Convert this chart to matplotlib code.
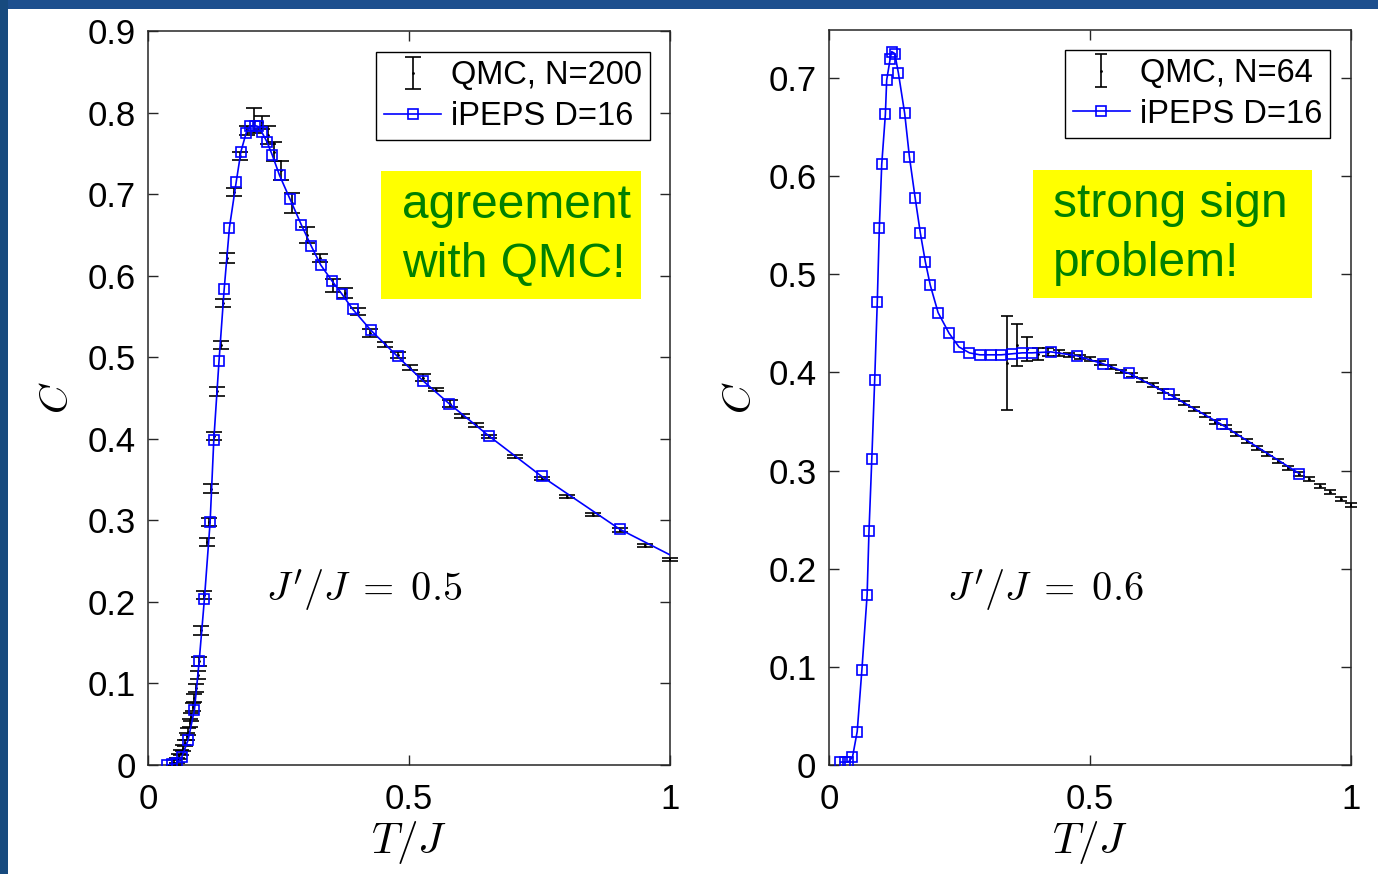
import matplotlib
matplotlib.use("Agg")
import matplotlib.pyplot as plt
from matplotlib.patches import Rectangle

plt.rcParams['font.family'] = ['Liberation Sans', 'DejaVu Sans']
plt.rcParams['mathtext.fontset'] = 'cm'

# ---------------- Data: left panel (J'/J = 0.5) ----------------
ipeps_T_left = [0.037, 0.046, 0.055, 0.065, 0.077, 0.089, 0.098, 0.108, 0.119, 0.126,
                0.136, 0.146, 0.156, 0.169, 0.178, 0.188, 0.195, 0.205, 0.211, 0.218,
                0.228, 0.238, 0.252, 0.272, 0.294, 0.313, 0.331, 0.352, 0.372, 0.392,
                0.427, 0.478, 0.527, 0.577, 0.654, 0.754, 0.904, 1.100]
ipeps_C_left = [0.000, 0.001, 0.002, 0.010, 0.031, 0.068, 0.127, 0.203, 0.298, 0.398,
                0.495, 0.584, 0.659, 0.715, 0.752, 0.775, 0.783, 0.784, 0.783, 0.776,
                0.764, 0.748, 0.723, 0.694, 0.662, 0.636, 0.613, 0.594, 0.577, 0.559,
                0.533, 0.501, 0.471, 0.443, 0.403, 0.354, 0.289, 0.225]

qmc_T_left = [0.050, 0.055, 0.060, 0.064, 0.068, 0.071, 0.074, 0.077, 0.080, 0.083,
              0.086, 0.089, 0.092, 0.095, 0.098, 0.102, 0.108, 0.113, 0.117, 0.120,
              0.126, 0.133, 0.140, 0.144, 0.152, 0.165, 0.176, 0.190, 0.203, 0.218,
              0.230, 0.241, 0.254, 0.275, 0.304, 0.330, 0.354, 0.377, 0.403, 0.425,
              0.454, 0.478, 0.502, 0.527, 0.552, 0.579, 0.601, 0.628, 0.654, 0.703,
              0.754, 0.802, 0.853, 0.904, 0.952, 1.000]
qmc_C_left = [0.003, 0.006, 0.010, 0.015, 0.021, 0.027, 0.035, 0.041, 0.051, 0.059,
              0.071, 0.082, 0.094, 0.110, 0.127, 0.165, 0.208, 0.273, 0.298, 0.339,
              0.403, 0.458, 0.515, 0.566, 0.622, 0.703, 0.747, 0.778, 0.790, 0.788,
              0.773, 0.752, 0.729, 0.689, 0.650, 0.622, 0.588, 0.579, 0.556, 0.530,
              0.516, 0.503, 0.487, 0.475, 0.460, 0.443, 0.428, 0.417, 0.403, 0.378,
              0.351, 0.329, 0.307, 0.288, 0.269, 0.252]
qmc_E_left = [0.003, 0.003, 0.003, 0.003, 0.004, 0.004, 0.004, 0.004, 0.005, 0.005,
              0.005, 0.005, 0.005, 0.005, 0.005, 0.005, 0.005, 0.005, 0.005, 0.005,
              0.005, 0.005, 0.005, 0.005, 0.006, 0.005, 0.005, 0.006, 0.015, 0.008,
              0.011, 0.012, 0.012, 0.012, 0.010, 0.005, 0.008, 0.006, 0.004, 0.005,
              0.003, 0.004, 0.003, 0.004, 0.002, 0.004, 0.002, 0.002, 0.002, 0.002,
              0.002, 0.002, 0.002, 0.002, 0.002, 0.002]

# ---------------- Data: right panel (J'/J = 0.6) ----------------
ipeps_T_right = [0.022, 0.030, 0.037, 0.045, 0.054, 0.063, 0.073, 0.0766, 0.082, 0.0875,
                 0.0925, 0.0964, 0.101, 0.108, 0.1105, 0.117, 0.120, 0.126, 0.133, 0.145,
                 0.154, 0.165, 0.175, 0.1845, 0.194, 0.209, 0.230, 0.249, 0.269, 0.289,
                 0.310, 0.330, 0.350, 0.370, 0.389, 0.425, 0.475, 0.524, 0.575, 0.651,
                 0.752, 0.901]
ipeps_C_right = [0.003, 0.003, 0.003, 0.008, 0.034, 0.097, 0.173, 0.238, 0.312, 0.392,
                 0.472, 0.547, 0.612, 0.663, 0.698, 0.719, 0.727, 0.725, 0.705, 0.664,
                 0.620, 0.578, 0.542, 0.513, 0.489, 0.461, 0.440, 0.426, 0.420, 0.418,
                 0.418, 0.418, 0.419, 0.420, 0.420, 0.421, 0.417, 0.409, 0.399, 0.378,
                 0.347, 0.297]

qmc_T_right = [0.341, 0.361, 0.380, 0.401, 0.420, 0.440, 0.460, 0.480, 0.500, 0.520,
               0.540, 0.560, 0.580, 0.600, 0.620, 0.640, 0.660, 0.680, 0.700, 0.720,
               0.740, 0.760, 0.780, 0.800, 0.820, 0.840, 0.860, 0.880, 0.900, 0.920,
               0.940, 0.960, 0.980, 1.000]
qmc_C_right = [0.410, 0.428, 0.424, 0.419, 0.421, 0.420, 0.418, 0.416, 0.414, 0.410,
               0.406, 0.401, 0.397, 0.392, 0.387, 0.381, 0.375, 0.369, 0.363, 0.357,
               0.350, 0.344, 0.337, 0.330, 0.323, 0.317, 0.310, 0.303, 0.297, 0.291,
               0.284, 0.278, 0.271, 0.265]
qmc_E_right = [0.048, 0.021, 0.012, 0.006, 0.004, 0.003, 0.002, 0.002, 0.002, 0.002,
               0.002, 0.002, 0.002, 0.002, 0.002, 0.002, 0.002, 0.002, 0.002, 0.002,
               0.002, 0.002, 0.002, 0.002, 0.002, 0.002, 0.002, 0.002, 0.002, 0.002,
               0.002, 0.002, 0.002, 0.002]

panels = [
    dict(pos=[148/1378, 1-765/874, 522/1378, 734/874], ylim=(0, 0.9),
         yticks=[0, 0.1, 0.2, 0.3, 0.4, 0.5, 0.6, 0.7, 0.8, 0.9],
         yticklabels=['0', '0.1', '0.2', '0.3', '0.4', '0.5', '0.6', '0.7', '0.8', '0.9'],
         iT=ipeps_T_left, iC=ipeps_C_left, qT=qmc_T_left, qC=qmc_C_left, qE=qmc_E_left,
         qlabel='QMC, N=200', ratio=r"$J'/J\;=\;0.5$", cap=5.5,
         leg_anchor=(0.962, 0.971), box=(0.446, 0.635, 0.498, 0.174),
         note='agreement\nwith QMC!', note_x=0.487, ylabelpad=8),
    dict(pos=[829/1378, 1-765/874, 522/1378, 735/874], ylim=(0, 0.749),
         yticks=[0, 0.1, 0.2, 0.3, 0.4, 0.5, 0.6, 0.7],
         yticklabels=['0', '0.1', '0.2', '0.3', '0.4', '0.5', '0.6', '0.7'],
         iT=ipeps_T_right, iC=ipeps_C_right, qT=qmc_T_right, qC=qmc_C_right, qE=qmc_E_right,
         qlabel='QMC, N=64', ratio=r"$J'/J\;=\;0.6$", cap=4.5,
         leg_anchor=(0.960, 0.973), box=(0.391, 0.635, 0.534, 0.175),
         note='strong sign\nproblem!', note_x=0.429, ylabelpad=7),
]

fig = plt.figure(figsize=(13.78, 8.74), dpi=100, facecolor='white')
# slide background strips
fig.patches.append(Rectangle((0, 1-9/874), 1, 9/874, transform=fig.transFigure,
                             facecolor='#1d4f8e', edgecolor='none', zorder=-10))
fig.patches.append(Rectangle((0, 0), 8/1378, 1, transform=fig.transFigure,
                             facecolor='#174a7e', edgecolor='none', zorder=-10))

for p in panels:
    ax = fig.add_axes(p['pos'])
    ax.set_xlim(0, 1)
    ax.set_ylim(*p['ylim'])
    eb = ax.errorbar(p['qT'], p['qC'], yerr=p['qE'], fmt='.', color='black',
                     ms=2, elinewidth=1.2, capsize=p['cap'], capthick=1.2,
                     label=p['qlabel'], zorder=3)
    for art in eb.lines[1] + eb.lines[2]:
        art.set_clip_on(False)
    ln, = ax.plot(p['iT'], p['iC'], '-s', color='#0000ff', lw=1.2, ms=6.8, mfc='none',
                  mew=1.2, label='iPEPS D=16', zorder=4)
    ax.set_xticks([0, 0.5, 1])
    ax.set_xticklabels(['0', '0.5', '1'])
    ax.set_yticks(p['yticks'])
    ax.set_yticklabels(p['yticklabels'])
    ax.tick_params(direction='in', length=7, width=1, top=True, right=True,
                   labelsize=25, colors='#262626', pad=9)
    ax.tick_params(axis='x', pad=13)
    ax.tick_params(labelcolor='black')
    for s in ax.spines.values():
        s.set_color('#262626')
        s.set_linewidth(1.1)
    ax.set_xlabel(r'$T/J$', fontsize=31, labelpad=2)
    ax.set_ylabel(r'$C$', fontsize=29, labelpad=p['ylabelpad'])
    leg = ax.legend([eb, ln], [p['qlabel'], 'iPEPS D=16'],
                    loc='upper right', bbox_to_anchor=p['leg_anchor'], fontsize=23.5,
                    frameon=True, fancybox=False, edgecolor='black', framealpha=1,
                    handlelength=1.75, handletextpad=0.3, borderpad=0.25,
                    labelspacing=0.3, borderaxespad=0)
    leg.get_frame().set_linewidth(1.0)
    bx, by, bw, bh = p['box']
    ax.add_patch(Rectangle((bx, by), bw, bh, transform=ax.transAxes,
                           facecolor='#ffff00', edgecolor='none', zorder=5))
    ax.text(p['note_x'], by + bh/2, p['note'], transform=ax.transAxes,
            ha='left', va='center', fontsize=34.5, color='#008000',
            linespacing=1.38, zorder=6)
    ax.text(0.414, 0.238, p['ratio'], transform=ax.transAxes, ha='center',
            va='center', fontsize=29, zorder=6)

fig.savefig('out.png', dpi=100, facecolor=fig.get_facecolor())
